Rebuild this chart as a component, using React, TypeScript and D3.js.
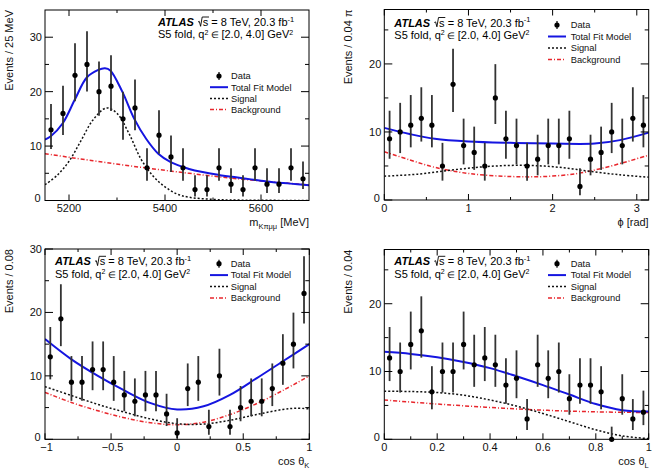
import * as d3 from 'd3'

const FONT = '"Liberation Sans", Arial, Helvetica, sans-serif'

type Pt = [number, number]

// m(K pi mu mu): 25 MeV bins starting at 5150 MeV
const massCounts = [13, 16, 23, 25, 20, 21, 15, 17, 6, 12, 8, 6, 2, 2, 6, 3, 2, 6, 3, 3, 6, 4]
const massTotal: Pt[] = [
  [5150, 11.2], [5162, 11.8], [5187, 14.2], [5212, 18.5], [5237, 22.6], [5261, 24.0], [5275, 24.3],
  [5286, 23.9], [5311, 20.0], [5336, 15.0], [5361, 11.3], [5386, 8.6], [5411, 7.1], [5436, 6.2],
  [5462, 5.5], [5512, 4.7], [5562, 4.1], [5611, 3.5], [5661, 3.1], [5700, 2.8],
]
const massSignal: Pt[] = [
  [5150, 2.9], [5175, 4.6], [5200, 7.2], [5225, 11.0], [5250, 14.8], [5278, 17.0], [5300, 16.0],
  [5325, 12.3], [5350, 7.6], [5375, 4.5], [5400, 2.5], [5425, 1.2], [5450, 0.6], [5500, 0.2],
  [5550, 0.08], [5700, 0.0],
]
const massBackground: Pt[] = [
  [5150, 8.6], [5250, 7.3], [5350, 6.1], [5450, 5.0], [5550, 4.0], [5700, 2.85],
]

// phi: 25 bins of 0.04 pi
const phiCounts = [9, 10, 11, 12, 11, 5, 17, 8, 7, 5, 15, 9, 8, 5, 6, 8, 8, 9, 2, 6, 7, 10, 8, 12, 11]
const phiTotal: Pt[] = [
  [0, 10.6], [0.3, 9.7], [0.6, 9.0], [1.0, 8.6], [1.5, 8.4], [2.0, 8.3], [2.5, 8.3], [2.8, 8.8], [Math.PI, 9.9],
]
const phiSignal: Pt[] = [
  [0, 3.5], [0.4, 3.8], [0.8, 4.4], [1.2, 4.9], [1.6, 5.1], [2.0, 4.9], [2.4, 4.3], [2.8, 3.7], [Math.PI, 3.35],
]
const phiBackground: Pt[] = [
  [0, 7.1], [0.3, 5.9], [0.6, 4.8], [1.0, 3.9], [1.5, 3.45], [1.9, 3.45], [2.3, 3.9], [2.6, 4.7], [2.9, 5.7], [Math.PI, 6.6],
]

// cos(theta_K): 25 bins of 0.08
const cosKCounts = [13, 19, 9, 9, 11, 11, 9, 7, 6, 7, 7, 4, 1, 8, 9, 2, 10, 2, 5, 6, 6, 8, 12, 15, 23]
const cosKTotal: Pt[] = [
  [-1, 15.8], [-0.8, 12.6], [-0.6, 10.0], [-0.4, 7.7], [-0.2, 5.7], [0, 4.7], [0.2, 5.2], [0.4, 7.0], [0.6, 9.6], [0.8, 12.3], [1, 15.0],
]
const cosKSignal: Pt[] = [
  [-1, 8.3], [-0.8, 6.9], [-0.6, 5.5], [-0.4, 4.3], [-0.2, 3.2], [0, 2.45], [0.2, 2.4], [0.4, 3.0], [0.6, 3.9], [0.8, 4.7], [0.9, 4.9], [1, 4.8],
]
const cosKBackground: Pt[] = [
  [-1, 7.4], [-0.8, 5.8], [-0.6, 4.5], [-0.4, 3.4], [-0.2, 2.6], [0, 2.3], [0.2, 2.7], [0.4, 3.9], [0.6, 5.6], [0.8, 7.7], [1, 10.0],
]

// cos(theta_L): 25 bins of 0.04
const cosLCounts = [12, 10, 14, 16, 7, 10, 10, 14, 11, 12, 11, 8, 9, 3, 11, 9, 10, 6, 8, 8, 7, 0, 6, 3, 4]
const cosLTotal: Pt[] = [
  [0, 12.9], [0.1, 12.6], [0.2, 12.1], [0.3, 11.4], [0.4, 10.5], [0.5, 9.3], [0.6, 8.0], [0.7, 6.6], [0.8, 5.2], [0.9, 4.3], [1, 4.1],
]
const cosLSignal: Pt[] = [
  [0, 7.1], [0.1, 7.05], [0.2, 6.9], [0.3, 6.5], [0.4, 5.8], [0.5, 4.9], [0.6, 3.8], [0.7, 2.6], [0.8, 1.4], [0.9, 0.5], [1, 0.1],
]
const cosLBackground: Pt[] = [
  [0, 5.8], [0.2, 5.2], [0.4, 4.7], [0.6, 4.3], [0.8, 4.05], [1, 3.95],
]

const massTicks = [5200, 5400, 5600]
const massMinor = [5300, 5500]
const phiTicks = [0, 1, 2, 3]
const phiMinor = [0.5, 1.5, 2.5]
const cosKTicks = [-1, -0.5, 0, 0.5, 1]
const cosKLabels = ['\u22121', '\u22120.5', '0', '0.5', '1']
const cosKMinor = [-0.75, -0.25, 0.25, 0.75]
const cosLTicks = [0, 0.2, 0.4, 0.6, 0.8, 1]
const cosLMinor = [0.1, 0.3, 0.5, 0.7, 0.9]
const yTicks = [0, 10, 20, 30]
const yMinor = [5, 15, 25]

const legendLabels = ['Data', 'Total Fit Model', 'Signal', 'Background']

// 68% Poisson interval for an observed count (Gehrels approximation)
function poissonInterval(n: number): [number, number] {
  const hi = n + Math.sqrt(n + 0.75) + 1
  const lo = n === 0 ? 0 : n * Math.pow(1 - 1 / (9 * n) - 1 / (3 * Math.sqrt(n)), 3)
  return [lo, hi]
}

interface Frame { left: number; right: number; top: number; bottom: number }
interface Title { main: string; sub?: string; rest?: string }

interface PanelSpec {
  frame: Frame
  xDomain: [number, number]
  yDomain: [number, number]
  xTicks: number[]
  xLabels: string[]
  xMinor: number[]
  binLo: number
  binWidth: number
  counts: number[]
  total: Pt[]
  signal: Pt[]
  background: Pt[]
  yTitle: string
  yTitleX: number
  xTitle: Title
  note: { x: number; y: number }
  legend: { x: number; textX: number; y: number; step: number }
}

const panels: PanelSpec[] = [
  {
    frame: { left: 45, right: 309, top: 10, bottom: 200.5 },
    xDomain: [5150, 5700], yDomain: [0, 35],
    xTicks: massTicks, xLabels: massTicks.map(String), xMinor: massMinor,
    binLo: 5150, binWidth: 25, counts: massCounts,
    total: massTotal, signal: massSignal, background: massBackground,
    yTitle: 'Events / 25 MeV', yTitleX: 12.5,
    xTitle: { main: 'm', sub: 'K\u03c0\u03bc\u03bc', rest: ' [MeV]' },
    note: { x: 158, y: 26 },
    legend: { x: 219, textX: 231, y: 76, step: 11.2 },
  },
  {
    frame: { left: 384.3, right: 648.7, top: 9.5, bottom: 200 },
    xDomain: [0, Math.PI], yDomain: [0, 28],
    xTicks: phiTicks, xLabels: phiTicks.map(String), xMinor: phiMinor,
    binLo: 0, binWidth: 0.04 * Math.PI, counts: phiCounts,
    total: phiTotal, signal: phiSignal, background: phiBackground,
    yTitle: 'Events / 0.04 \u03c0', yTitleX: 352,
    xTitle: { main: '\u03d5 [rad]' },
    note: { x: 394.3, y: 26.5 },
    legend: { x: 557, textX: 570.7, y: 25, step: 11.5 },
  },
  {
    frame: { left: 45, right: 309.3, top: 249, bottom: 439.3 },
    xDomain: [-1, 1], yDomain: [0, 30],
    xTicks: cosKTicks, xLabels: cosKLabels, xMinor: cosKMinor,
    binLo: -1, binWidth: 0.08, counts: cosKCounts,
    total: cosKTotal, signal: cosKSignal, background: cosKBackground,
    yTitle: 'Events / 0.08', yTitleX: 12.5,
    xTitle: { main: 'cos \u03b8', sub: 'K' },
    note: { x: 55, y: 265.3 },
    legend: { x: 219, textX: 230.7, y: 263.7, step: 11.4 },
  },
  {
    frame: { left: 384.3, right: 648.7, top: 249.5, bottom: 439.3 },
    xDomain: [0, 1], yDomain: [0, 28],
    xTicks: cosLTicks, xLabels: cosLTicks.map(String), xMinor: cosLMinor,
    binLo: 0, binWidth: 0.04, counts: cosLCounts,
    total: cosLTotal, signal: cosLSignal, background: cosLBackground,
    yTitle: 'Events / 0.04', yTitleX: 352,
    xTitle: { main: 'cos \u03b8', sub: 'L' },
    note: { x: 394.3, y: 265.3 },
    legend: { x: 557, textX: 570.7, y: 263.7, step: 11.4 },
  },
]

const BLUE = '#1515e0'
const RED = '#e8262c'

function Panel({ spec, id }: { spec: PanelSpec; id: number }) {
  const { frame: f } = spec
  const x = d3.scaleLinear().domain(spec.xDomain).range([f.left, f.right])
  const y = d3.scaleLinear().domain(spec.yDomain).range([f.bottom, f.top])
  const line = d3.line<Pt>().x(d => x(d[0])).y(d => y(d[1])).curve(d3.curveCatmullRom.alpha(0.5))

  const yMaj = yTicks.filter(t => t <= spec.yDomain[1])
  const yMin = yMinor.filter(t => t <= spec.yDomain[1])
  const clipId = `frame-${id}`
  const lg = spec.legend
  const half = 9

  // radical sign drawn as a path, then "s" under its bar
  const rx = spec.note.x + 40
  const ry = spec.note.y
  const radical = `M${rx},${ry - 4} L${rx + 1.3},${ry - 4.6} L${rx + 2.6},${ry + 0.3} L${rx + 4.2},${ry - 9} L${rx + 11},${ry - 9}`

  return (
    <g fontFamily={FONT}>
      <defs>
        <clipPath id={clipId}>
          <rect x={f.left} y={f.top} width={f.right - f.left} height={f.bottom - f.top} />
        </clipPath>
      </defs>

      {/* fit curves */}
      <g clipPath={`url(#${clipId})`} fill="none">
        <path d={line(spec.background) ?? ''} stroke={RED} strokeWidth={1.5} strokeDasharray="4 2 1 2" />
        <path d={line(spec.signal) ?? ''} stroke="#111" strokeWidth={1.5} strokeDasharray="2 2" />
        <path d={line(spec.total) ?? ''} stroke={BLUE} strokeWidth={2} />
      </g>

      {/* data points with Poisson errors */}
      {spec.counts.map((n, i) => {
        const cx = x(spec.binLo + (i + 0.5) * spec.binWidth)
        const [lo, hi] = poissonInterval(n)
        return (
          <g key={i}>
            <line x1={cx} x2={cx} y1={y(lo)} y2={y(Math.min(hi, spec.yDomain[1]))} stroke="#333" strokeWidth={1.8} />
            <circle cx={cx} cy={y(n)} r={2.6} fill="#000" />
          </g>
        )
      })}

      {/* frame and ticks on all sides */}
      <rect x={f.left} y={f.top} width={f.right - f.left} height={f.bottom - f.top} fill="none" stroke="#000" strokeWidth={1} />
      {spec.xTicks.map(t => (
        <g key={`xt${t}`} stroke="#000">
          <line x1={x(t)} x2={x(t)} y1={f.bottom} y2={f.bottom - 6} />
          <line x1={x(t)} x2={x(t)} y1={f.top} y2={f.top + 6} />
        </g>
      ))}
      {spec.xMinor.map(t => (
        <g key={`xm${t}`} stroke="#000">
          <line x1={x(t)} x2={x(t)} y1={f.bottom} y2={f.bottom - 3} />
          <line x1={x(t)} x2={x(t)} y1={f.top} y2={f.top + 3} />
        </g>
      ))}
      {yMaj.map(t => (
        <g key={`yt${t}`} stroke="#000">
          <line x1={f.left} x2={f.left + 8} y1={y(t)} y2={y(t)} />
          <line x1={f.right} x2={f.right - 8} y1={y(t)} y2={y(t)} />
        </g>
      ))}
      {yMin.map(t => (
        <g key={`ym${t}`} stroke="#000">
          <line x1={f.left} x2={f.left + 4} y1={y(t)} y2={y(t)} />
          <line x1={f.right} x2={f.right - 4} y1={y(t)} y2={y(t)} />
        </g>
      ))}

      {/* tick labels; negative labels sit a little right, the corner zero a little left */}
      {spec.xTicks.map((t, i) => (
        <text key={`xl${t}`} x={x(t) + (t < 0 ? 1.5 : 0)} y={f.bottom + 11.5} fontSize={11} textAnchor="middle" fill="#111">
          {spec.xLabels[i]}
        </text>
      ))}
      {yMaj.map(t => (
        <text key={`yl${t}`} x={f.left - (t === 0 ? 4.5 : 3)} y={t === 0 ? y(t) - 2 : y(t)} dy="0.36em" fontSize={11} textAnchor="end" fill="#111">
          {t}
        </text>
      ))}

      {/* axis titles */}
      <text transform={`translate(${spec.yTitleX},${f.top}) rotate(-90)`} fontSize={11} textAnchor="end" fill="#111">
        {spec.yTitle}
      </text>
      <text x={f.right} y={f.bottom + 25.5} fontSize={11} textAnchor="end" fill="#111">
        {spec.xTitle.main}
        {spec.xTitle.sub && <tspan fontSize={7.5} dy={3}>{spec.xTitle.sub}</tspan>}
        {spec.xTitle.rest && <tspan dy={-3}>{spec.xTitle.rest}</tspan>}
      </text>

      {/* experiment label */}
      <text x={spec.note.x} y={spec.note.y} fontSize={11} fontWeight="bold" fontStyle="italic" fill="#000">
        ATLAS
      </text>
      <path d={radical} fill="none" stroke="#000" strokeWidth={0.9} />
      <text x={rx + 4.8} y={spec.note.y} fontSize={11} fill="#000">
        <tspan>{'s = 8 TeV, 20.3 fb'}</tspan>
        <tspan fontSize={7.5} dy={-4.5}>-1</tspan>
      </text>
      <text x={spec.note.x} y={spec.note.y + 12.3} fontSize={11} fill="#000">
        <tspan>S5 fold, q</tspan>
        <tspan fontSize={7} dy={-3.4}>2</tspan>
        <tspan fontSize={9} dy={3.4}>{' \u2208 '}</tspan>
        <tspan>[2.0, 4.0] GeV</tspan>
        <tspan fontSize={7} dy={-3.4}>2</tspan>
      </text>

      {/* legend */}
      <g>
        <line x1={lg.x} x2={lg.x} y1={lg.y - 4} y2={lg.y + 4} stroke="#333" strokeWidth={1.5} />
        <circle cx={lg.x} cy={lg.y} r={2.6} fill="#000" />
        <line x1={lg.x - half} x2={lg.x + half} y1={lg.y + lg.step} y2={lg.y + lg.step} stroke={BLUE} strokeWidth={2} />
        <line x1={lg.x - half} x2={lg.x + half} y1={lg.y + 2 * lg.step} y2={lg.y + 2 * lg.step} stroke="#111" strokeWidth={1.5} strokeDasharray="2 2" />
        <line x1={lg.x - half} x2={lg.x + half} y1={lg.y + 3 * lg.step} y2={lg.y + 3 * lg.step} stroke={RED} strokeWidth={1.5} strokeDasharray="4 2 1 2" />
        {legendLabels.map((label, i) => (
          <text key={label} x={lg.textX} y={lg.y + i * lg.step} dy="0.36em" fontSize={9.3} fill="#111">
            {label}
          </text>
        ))}
      </g>
    </g>
  )
}

export default function App() {
  return (
    <>
      <style>{'body{margin:0}'}</style>
      <svg width={655} height={474} style={{ display: 'block', background: '#fff' }}>
        {panels.map((p, i) => (
          <Panel key={i} spec={p} id={i} />
        ))}
      </svg>
    </>
  )
}
